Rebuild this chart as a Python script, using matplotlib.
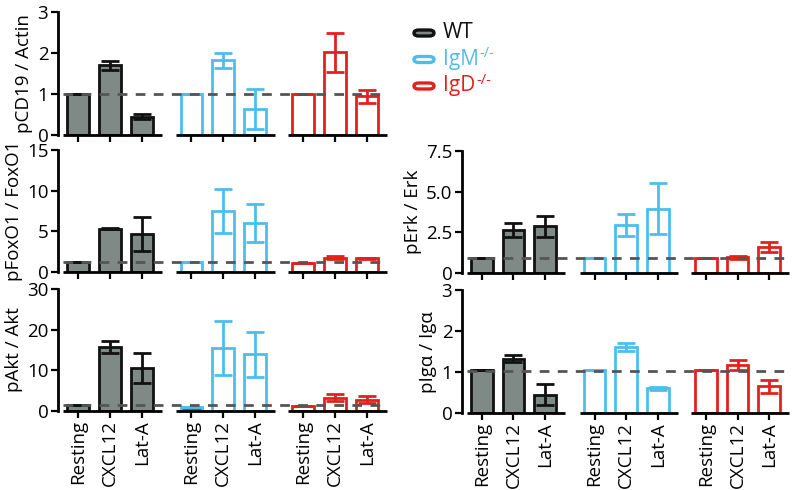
import numpy as np
import matplotlib.pyplot as plt
from matplotlib.patches import FancyBboxPatch

plt.rcParams['font.family'] = ['Open Sans', 'DejaVu Sans']

conditions = ['Resting', 'CXCL12', 'Lat-A']
genotypes = ['WT', 'IgM', 'IgD']
genotype_sup = ['', '-/-', '-/-']

# mean / sem per genotype (WT, IgM-/-, IgD-/-), each: Resting, CXCL12, Lat-A
pcd19_mean = [[1.0, 1.70, 0.45], [1.0, 1.82, 0.64], [1.0, 2.02, 0.94]]
pcd19_err = [[0.0, 0.11, 0.06], [0.0, 0.19, 0.49], [0.0, 0.48, 0.16]]

pfoxo1_mean = [[1.23, 5.33, 4.7], [1.23, 7.5, 6.07], [1.15, 1.76, 1.68]]
pfoxo1_err = [[0.0, 0.05, 2.07], [0.0, 2.7, 2.35], [0.0, 0.2, 0.1]]

pakt_mean = [[1.39, 15.7, 10.5], [0.9, 15.45, 13.9], [1.14, 3.27, 2.78]]
pakt_err = [[0.0, 1.45, 3.7], [0.0, 6.6, 5.5], [0.0, 0.8, 0.8]]

perk_mean = [[0.92, 2.66, 2.86], [0.92, 2.94, 3.95], [0.92, 0.96, 1.6]]
perk_err = [[0.0, 0.44, 0.64], [0.0, 0.68, 1.58], [0.0, 0.1, 0.28]]

piga_mean = [[1.04, 1.33, 0.45], [1.04, 1.61, 0.6], [1.04, 1.18, 0.65]]
piga_err = [[0.0, 0.09, 0.26], [0.0, 0.1, 0.04], [0.0, 0.12, 0.16]]

edge_cols = ['#111111', '#4dbdee', '#e3211c']
face_cols = ['#7f8a87', 'white', 'white']
group_start = [0.0, 3.55, 7.05]

fig = plt.figure(figsize=(7.96, 4.90), dpi=100)


def panel(rect, means, errs, ylim, yticks, yticklabels, ylabel, ref, xlabels=False):
    ax = fig.add_axes(rect)
    for g in range(3):
        x = group_start[g] + np.arange(3)
        faces = [face_cols[g]] * 3
        if ylabel.startswith('pAkt') and g == 1:
            faces[0] = '#2a5fd3'
        ax.bar(x, means[g], width=0.68, color=faces, edgecolor=edge_cols[g],
               linewidth=2.0, zorder=2)
        ax.errorbar(x, means[g], yerr=errs[g], fmt='none', ecolor=edge_cols[g],
                    elinewidth=2.0, capsize=6.5, capthick=2.0, zorder=3)
        ax.plot([x[0] - 0.47, x[2] + 0.62], [0, 0], color='black', lw=2.0,
                clip_on=False, solid_capstyle='butt', zorder=4)
    ax.plot([-0.45, 9.55], [ref, ref], color='#555555', lw=2.0,
            dashes=(3.5, 3.0), zorder=5)
    ax.set_xlim(-0.62, 9.7)
    ax.set_ylim(*ylim)
    ax.set_yticks(yticks)
    ax.set_yticklabels(yticklabels, fontsize=13.5)
    ticks = np.concatenate([s + np.arange(3) for s in group_start])
    ax.set_xticks(ticks)
    if xlabels:
        ax.set_xticklabels(conditions * 3, rotation=90, fontsize=13.5)
    else:
        ax.set_xticklabels([])
    for s in ['top', 'right', 'bottom']:
        ax.spines[s].set_visible(False)
    ax.spines['left'].set_linewidth(2.0)
    ax.tick_params(axis='both', width=1.6, length=5, pad=2)
    ax.tick_params(axis='x', pad=1.5)
    ax.set_ylabel(ylabel, fontsize=13.5, labelpad=3)
    return ax


panel([0.0729, 0.7245, 0.4146, 0.251], pcd19_mean, pcd19_err, (0, 3),
      [0, 1, 2, 3], ['0', '1', '2', '3'], 'pCD19 / Actin', 1.0)
panel([0.0729, 0.4449, 0.4146, 0.249], pfoxo1_mean, pfoxo1_err, (0, 15),
      [0, 5, 10, 15], ['0', '5', '10', '15'], 'pFoxO1 / FoxO1', 1.23)
panel([0.0729, 0.1612, 0.4146, 0.249], pakt_mean, pakt_err, (0, 30),
      [0, 10, 20, 30], ['0', '10', '20', '30'], 'pAkt / Akt', 1.45, xlabels=True)
panel([0.5804, 0.4429, 0.412, 0.249], perk_mean, perk_err, (0, 7.5),
      [0, 2.5, 5.0, 7.5], ['0', '2.5', '5.0', '7.5'], 'pErk / Erk', 0.92)
panel([0.5804, 0.157, 0.412, 0.251], piga_mean, piga_err, (0, 3),
      [0, 1, 2, 3], ['0', '1', '2', '3'], 'pIgα / Igα', 1.02, xlabels=True)

# legend with pill-shaped keys
fig.canvas.draw()
renderer = fig.canvas.get_renderer()
for i, (lab, sup, ec, fc) in enumerate(zip(genotypes, genotype_sup, edge_cols, face_cols)):
    yc = 1 - (33 + 26.5 * i) / 490
    pill = FancyBboxPatch((414 / 796, yc - 3 / 490), 20 / 796, 6 / 490,
                          boxstyle='round,pad=0,rounding_size=0.006',
                          transform=fig.transFigure, facecolor=fc,
                          edgecolor=ec, linewidth=2.4)
    fig.patches.append(pill)
    t = fig.text(443 / 796, yc, lab, color=ec, fontsize=15, va='center', ha='left')
    if sup:
        bb = t.get_window_extent(renderer)
        fig.text(bb.x1 / 796 + 0.001, yc + 6 / 490, sup, color=ec, fontsize=10.5,
                 va='center', ha='left')

fig.savefig('out.png', dpi=100)
